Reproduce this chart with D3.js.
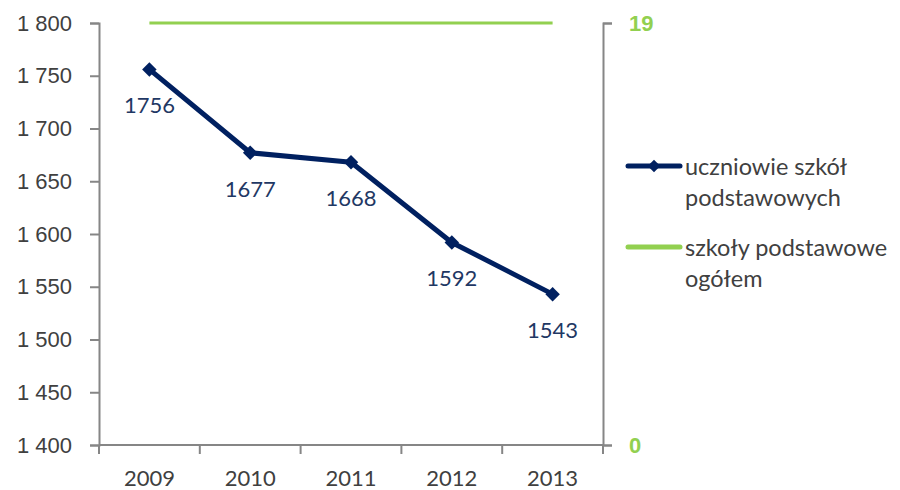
<!DOCTYPE html>
<html>
<head>
<meta charset="utf-8">
<script src="https://cdn.jsdelivr.net/npm/d3@7"></script>
<style>
  html, body { margin: 0; padding: 0; background: #fff; }
  svg { display: block; font-family: Lato, "Open Sans", sans-serif; }
</style>
</head>
<body>
<svg id="chart" width="900" height="490"></svg>
<script>
// Years and the two series
const years = ["2009", "2010", "2011", "2012", "2013"];
const pupils = [1756, 1677, 1668, 1592, 1543];   // uczniowie szkół podstawowych (left axis)
const schools = [19, 19, 19, 19, 19];            // szkoły podstawowe ogółem (right axis)
const leftTicks = [1400, 1450, 1500, 1550, 1600, 1650, 1700, 1750, 1800];
const rightTicks = [0, 19];
const legendLabels = [["uczniowie szkół", "podstawowych"], ["szkoły podstawowe", "ogółem"]];

const navy = "#002060";
const labelNavy = "#1F3864";
const green = "#92D050";
const axisGray = "#868686";
const textGray = "#404040";
const fs = "22px";

const svg = d3.select("#chart");
const plot = { left: 99, right: 603, top: 23, bottom: 445 };

const x = d3.scaleBand().domain(years).range([plot.left, plot.right]);
const yL = d3.scaleLinear().domain([1400, 1800]).range([plot.bottom, plot.top]);
const yR = d3.scaleLinear().domain([0, 19]).range([plot.bottom, plot.top]);
const cx = d => x(d) + x.bandwidth() / 2;

// Left axis
const gL = svg.append("g").attr("transform", `translate(${plot.left},0)`)
  .call(d3.axisLeft(yL).tickValues(leftTicks).tickSize(9).tickPadding(18)
    .tickFormat(d => d3.format(",")(d).replace(",", " ")));
gL.select(".domain").attr("stroke", axisGray).attr("stroke-width", 2);
gL.selectAll(".tick line").attr("stroke", axisGray).attr("stroke-width", 2);
gL.selectAll(".tick text").attr("fill", textGray).style("font-size", fs);

// Right axis
const gR = svg.append("g").attr("transform", `translate(${plot.right},0)`)
  .call(d3.axisRight(yR).tickValues(rightTicks).tickSize(9).tickPadding(17));
gR.select(".domain").attr("stroke", axisGray).attr("stroke-width", 2);
gR.selectAll(".tick line").attr("stroke", axisGray).attr("stroke-width", 2);
gR.selectAll(".tick text").attr("fill", green).style("font-size", fs).style("font-weight", "bold");

// Bottom axis, ticks at band edges
const gB = svg.append("g").attr("transform", `translate(0,${plot.bottom})`);
gB.append("line").attr("x1", plot.left).attr("x2", plot.right)
  .attr("stroke", axisGray).attr("stroke-width", 2);
const edges = years.map(d => x(d)).concat([plot.right]);
gB.selectAll("line.edge").data(edges).join("line").attr("class", "edge")
  .attr("x1", d => d).attr("x2", d => d).attr("y1", 0).attr("y2", 9)
  .attr("stroke", axisGray).attr("stroke-width", 2);
gB.selectAll("text").data(years).join("text")
  .attr("x", d => cx(d)).attr("y", 41).attr("text-anchor", "middle")
  .attr("fill", textGray).style("font-size", fs).text(d => d);

// Schools series
svg.append("path").datum(schools)
  .attr("fill", "none").attr("stroke", green).attr("stroke-width", 3)
  .attr("d", d3.line().x((d, i) => cx(years[i])).y(d => yR(d)));

// Pupils series
svg.append("path").datum(pupils)
  .attr("fill", "none").attr("stroke", navy).attr("stroke-width", 5).attr("stroke-linejoin", "round")
  .attr("d", d3.line().x((d, i) => cx(years[i])).y(d => yL(d)));

svg.selectAll("path.marker").data(pupils).join("path").attr("class", "marker")
  .attr("transform", (d, i) => `translate(${cx(years[i])},${yL(d)}) rotate(45)`)
  .attr("d", d3.symbol().type(d3.symbolSquare).size(105)).attr("fill", navy);

svg.selectAll("text.val").data(pupils).join("text").attr("class", "val")
  .attr("x", (d, i) => cx(years[i])).attr("y", d => yL(d) + 44)
  .attr("text-anchor", "middle").attr("fill", labelNavy).style("font-size", fs)
  .text(d => d);

// Legend
const lg = svg.append("g");
const rows = [{ y: 166, color: navy, marker: true }, { y: 247, color: green, marker: false }];
rows.forEach((r, i) => {
  lg.append("line").attr("x1", 628).attr("x2", 680).attr("y1", r.y).attr("y2", r.y)
    .attr("stroke", r.color).attr("stroke-width", 5).attr("stroke-linecap", "round");
  if (r.marker) {
    lg.append("path").attr("transform", `translate(654,${r.y}) rotate(45)`)
      .attr("d", d3.symbol().type(d3.symbolSquare).size(80)).attr("fill", navy);
  }
  legendLabels[i].forEach((t, j) => {
    lg.append("text").attr("x", 685).attr("y", r.y + 9 + j * 31)
      .attr("fill", textGray).style("font-size", "23.5px").text(t);
  });
});
</script>
</body>
</html>
